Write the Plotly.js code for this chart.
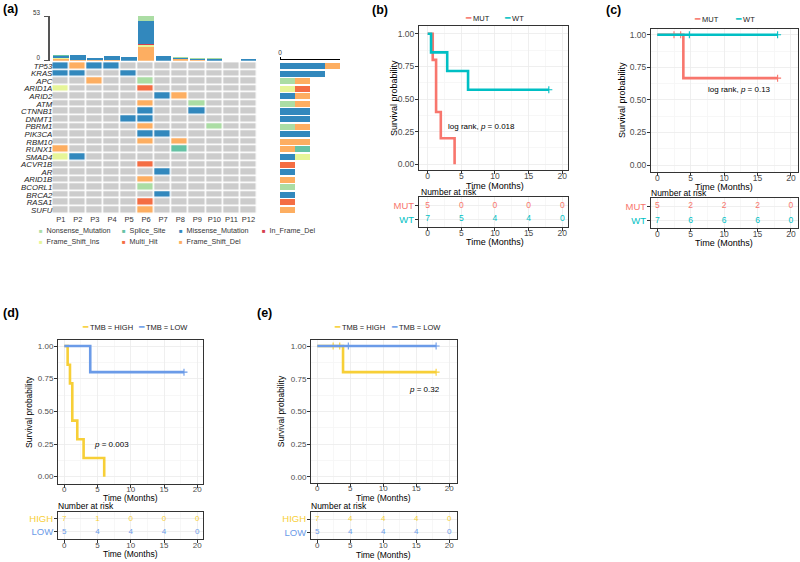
<!DOCTYPE html>
<html><head><meta charset="utf-8">
<script src="https://cdn.plot.ly/plotly-3.0.1.min.js"></script>
<style>html,body{margin:0;padding:0;background:#fff}</style>
</head><body><div id="chart" style="width:800px;height:562px"></div>
<script>
// ================= DATA =================
// Panel (a) oncoplot
const samples = ['P1','P2','P3','P4','P5','P6','P7','P8','P9','P10','P11','P12'];
const genes = ['TP53','KRAS','APC','ARID1A','ARID2','ATM','CTNNB1','DNMT1','PBRM1','PIK3CA','RBM10','RUNX1','SMAD4','ACVR1B','AR','ARID1B','BCORL1','BRCA2','RASA1','SUFU'];
const variantClasses = ['Nonsense_Mutation','Splice_Site','Missense_Mutation','In_Frame_Del','Frame_Shift_Ins','Multi_Hit','Frame_Shift_Del'];
const variantCodes   = ['NS','SS','MS','IFD','FSI','MH','FSD'];
const variantColors  = ['#ABDDA4','#66C2A5','#3288BD','#D53E4F','#E6F598','#F46D43','#FDAE61'];
// calls per gene (rows) x sample (cols); '' = no mutation
const oncoCalls = [
  ['MS','FSD','MS','MS','','','','','','','',''],   // TP53
  ['MS','MS','','','MS','','','','','','',''],      // KRAS
  ['','','FSD','','','NS','','','','','',''],       // APC
  ['FSI','','','','','MH','','','','','',''],       // ARID1A
  ['','','','','','','MS','FSD','','','',''],       // ARID2
  ['','','','','','FSD','','','NS','','',''],       // ATM
  ['','','','','','MS','','','MS','','',''],        // CTNNB1
  ['','','','','MS','MS','','','','','',''],        // DNMT1
  ['','','','','','FSD','','','','NS','',''],       // PBRM1
  ['','','','','','MS','MS','','','','',''],        // PIK3CA
  ['','','','','','FSD','','FSD','','','',''],      // RBM10
  ['FSD','','','','','','','SS','','','',''],       // RUNX1
  ['FSI','MS','','','','','','','','','',''],       // SMAD4
  ['','','','','','MH','','','','','',''],          // ACVR1B
  ['','','','','','','MS','','','','',''],          // AR
  ['','','','','','FSD','','','','','',''],         // ARID1B
  ['','','','','','NS','','','','','',''],          // BCORL1
  ['','','','','','','MS','','','','',''],          // BRCA2
  ['','','','','','MH','','','','','',''],          // RASA1
  ['','','','','','FSD','','','','','','']          // SUFU
];
// mutation burden per sample (top bar)
const tmbFrameShiftDel = [2,1,1,1,0,16,0,2,1,0,0,0];
const tmbFrameShiftIns = [1,0,0,0,0,3,0,0,0,0,0,0];
const tmbInFrameDel    = [0,0,0,0,0,1,0,0,0,0,0,0];
const tmbMissense      = [3,6,2,4,4,27,5,1,1,2,0,2];
const tmbSplice        = [1,0,0,0,0,0,0,0,0,0,0,0];
const tmbNonsense      = [0,0,0,0,0,6,0,1,1,1,0,0];

// Panels (b)-(e) Kaplan-Meier
const riskTimes = [0,5,10,15,20];
// (b)
const bMutT = [0,0.75,1.25,1.95,4];   const bMutS = [1,0.8,0.4,0.2,0];
const bMutCensT = [];                 const bMutCensS = [];
const bWtT  = [0,0.5,2.9,6,18];       const bWtS  = [1,0.857,0.714,0.571,0.571];
const bWtCensT = [18];                const bWtCensS = [0.571];
const bMutRisk = [5,0,0,0,0];         const bWtRisk = [7,5,4,4,0];
// (c)
const cMutT = [0,3.9,18];             const cMutS = [1,0.667,0.667];
const cMutCensT = [2.5,3.5,18];       const cMutCensS = [1,1,0.667];
const cWtT  = [0,18];                 const cWtS  = [1,1];
const cWtCensT = [4.8,18];            const cWtCensS = [1,1];
const cMutRisk = [5,2,2,2,0];         const cWtRisk = [7,6,6,6,0];
// (d)
const dHighT = [0,0.5,0.85,1.2,1.95,2.9,6]; const dHighS = [1,0.857,0.714,0.429,0.286,0.143,0];
const dHighCensT = [];                const dHighCensS = [];
const dLowT  = [0,3.9,18];            const dLowS  = [1,0.8,0.8];
const dLowCensT = [18];               const dLowCensS = [0.8];
const dHighRisk = [7,1,0,0,0];        const dLowRisk = [5,4,4,4,0];
// (e)
const eHighT = [0,3.9,18];            const eHighS = [1,0.8,0.8];
const eHighCensT = [2.4,3.4,18];      const eHighCensS = [1,1,0.8];
const eLowT  = [0,18];                const eLowS  = [1,1];
const eLowCensT = [4.7,18];           const eLowCensS = [1,1];
const eHighRisk = [7,4,4,4,0];        const eLowRisk = [5,4,4,4,0];

// ================= STYLE / HELPERS =================
const W = 800, H = 562;
const px = (l, r) => [l / W, r / W];
const py = (t, b) => [1 - b / H, 1 - t / H];
const FN = 'Liberation Sans Narrow, Arial Narrow, Liberation Sans, Arial, sans-serif';
const FA = 'Liberation Sans, Arial, sans-serif';
const C_MUT = '#F8766D', C_WT = '#00BFC4', C_HIGH = '#F7CF37', C_LOW = '#6B9BE8';
const colorOf = code => variantColors[variantCodes.indexOf(code)];

const traces = [];

// ---- (a) top bar (mutation burden) ----
const tmbStack = [
  ['FSD', tmbFrameShiftDel], ['FSI', tmbFrameShiftIns], ['IFD', tmbInFrameDel],
  ['MS', tmbMissense], ['SS', tmbSplice], ['NS', tmbNonsense]
];
tmbStack.forEach(([code, vals]) => {
  traces.push({type:'bar', x:samples, y:vals, xaxis:'x', yaxis:'y', width:0.9,
    marker:{color:colorOf(code), line:{width:0}}, showlegend:false, hoverinfo:'skip'});
});

// ---- (a) heatmap ----
const geneIdx = genes.map((g, i) => i);
const zMat = oncoCalls.map(row => row.map(c => c === '' ? 0 : variantCodes.indexOf(c) + 1));
const cs = [];
const allColors = ['#CCCCCC'].concat(variantColors);
allColors.forEach((c, i) => {
  cs.push([i / allColors.length, c]);
  cs.push([(i + 1) / allColors.length, c]);
});
traces.push({type:'heatmap', x:samples, y:geneIdx, z:zMat, xaxis:'x2', yaxis:'y2',
  colorscale:cs, zmin:-0.5, zmax:allColors.length - 0.5, showscale:false, xgap:1.6, ygap:1.6, hoverinfo:'skip'});

// ---- (a) right bar (per-gene counts by class) ----
['NS','MS','FSI','MH','FSD','SS'].forEach(code => {
  const counts = oncoCalls.map(row => row.filter(c => c === code).length);
  traces.push({type:'bar', orientation:'h', x:counts, y:geneIdx, xaxis:'x3', yaxis:'y3', width:0.8,
    marker:{color:colorOf(code), line:{width:0}}, showlegend:false, hoverinfo:'skip'});
});
const pctLabels = oncoCalls.map(row => Math.round(100 * row.filter(c => c !== '').length / samples.length) + '%');

// ---- KM panels ----
function km(t, s, ct, cs_, color, xa, ya) {
  traces.push({type:'scatter', mode:'lines', x:t, y:s, xaxis:xa, yaxis:ya,
    line:{shape:'hv', color:color, width:2.6}, showlegend:false, hoverinfo:'skip'});
  if (ct.length) traces.push({type:'scatter', mode:'markers', x:ct, y:cs_, xaxis:xa, yaxis:ya,
    marker:{symbol:'cross-thin', size:5, color:color, line:{width:1.1, color:color}}, showlegend:false, hoverinfo:'skip'});
}
function risk(vals, row, color, xa, ya, fs) {
  traces.push({type:'scatter', mode:'text', x:riskTimes, y:riskTimes.map(() => row), text:vals.map(String),
    xaxis:xa, yaxis:ya, textfont:{family:FN, size:fs, color:color}, showlegend:false, hoverinfo:'skip'});
}
km(bMutT, bMutS, bMutCensT, bMutCensS, C_MUT, 'x4', 'y4');
km(bWtT, bWtS, bWtCensT, bWtCensS, C_WT, 'x4', 'y4');
risk(bMutRisk, 1, C_MUT, 'x5', 'y5', 8.5); risk(bWtRisk, 0, C_WT, 'x5', 'y5', 8.5);
km(cMutT, cMutS, cMutCensT, cMutCensS, C_MUT, 'x6', 'y6');
km(cWtT, cWtS, cWtCensT, cWtCensS, C_WT, 'x6', 'y6');
risk(cMutRisk, 1, C_MUT, 'x7', 'y7', 8.5); risk(cWtRisk, 0, C_WT, 'x7', 'y7', 8.5);
km(dHighT, dHighS, dHighCensT, dHighCensS, C_HIGH, 'x8', 'y8');
km(dLowT, dLowS, dLowCensT, dLowCensS, C_LOW, 'x8', 'y8');
risk(dHighRisk, 1, C_HIGH, 'x9', 'y9', 8); risk(dLowRisk, 0, C_LOW, 'x9', 'y9', 8);
km(eHighT, eHighS, eHighCensT, eHighCensS, C_HIGH, 'x10', 'y10');
km(eLowT, eLowS, eLowCensT, eLowCensS, C_LOW, 'x10', 'y10');
risk(eHighRisk, 1, C_HIGH, 'x11', 'y11', 8); risk(eLowRisk, 0, C_LOW, 'x11', 'y11', 8);

// ---- axes builders ----
function kmX(dom, rng, anchor, fs, so) {
  return {domain:dom, range:rng, anchor:anchor, showline:true, mirror:true, linecolor:'#333', linewidth:1,
    ticks:'outside', ticklen:3, tickcolor:'#333', tick0:0, dtick:5, ticklabelstandoff:so,
    tickfont:{family:FN, size:fs, color:'#4D4D4D'},
    showgrid:true, gridcolor:'#EBEBEB', gridwidth:0.8, zeroline:false,
    minor:{showgrid:true, gridcolor:'#F5F5F5', tick0:0, dtick:2.5, ticks:''}};
}
function kmY(dom, rng, anchor, fs) {
  return {domain:dom, range:rng, anchor:anchor, showline:true, mirror:true, linecolor:'#333', linewidth:1,
    ticks:'outside', ticklen:3, tickcolor:'#333', tick0:0, dtick:0.25, tickformat:'.2f', ticklabelstandoff:-1,
    tickfont:{family:FN, size:fs, color:'#4D4D4D'},
    showgrid:true, gridcolor:'#EBEBEB', gridwidth:0.8, zeroline:false,
    minor:{showgrid:true, gridcolor:'#F5F5F5', tick0:0, dtick:0.125, ticks:''}};
}
function riskY(dom, rng, anchor, lab1, c1, lab0, c0) {
  return {domain:dom, range:rng, anchor:anchor, showline:true, mirror:true, linecolor:'#333', linewidth:1,
    ticks:'outside', ticklen:3, tickcolor:'#333', tickmode:'array', tickvals:[1,0], ticklabelstandoff:-1,
    ticktext:['<span style="color:' + c1 + '">' + lab1 + '</span>', '<span style="color:' + c0 + '">' + lab0 + '</span>'],
    tickfont:{family:FN, size:9.5}, showgrid:true, gridcolor:'#EBEBEB', gridwidth:0.8, zeroline:false};
}

const layout = {
  width:W, height:H, margin:{l:0, r:0, t:0, b:0}, paper_bgcolor:'#fff', plot_bgcolor:'rgba(0,0,0,0)',
  barmode:'stack', showlegend:false, font:{family:FA, color:'#222'},
  // (a) top bar
  xaxis:{domain:px(52.3,257), anchor:'y', type:'category', range:[-0.5,11.5], showticklabels:false, ticks:'',
    showgrid:false, zeroline:false, showline:false},
  yaxis:{domain:py(16,60.7), anchor:'free', position:48.3/W, range:[0,53], tickmode:'array', tickvals:[0,53],
    ticks:'outside', ticklen:4, tickcolor:'#555', showline:true, linecolor:'#555', linewidth:1.2,
    ticklabelstandoff:3, ticklabelshift:-3,
    showgrid:false, zeroline:false, tickfont:{family:FA, size:6.3, color:'#333'}},
  // (a) heatmap
  xaxis2:{domain:px(52.3,257), anchor:'y2', type:'category', range:[-0.5,11.5], ticks:'',
    tickfont:{family:FA, size:7.5, color:'#333'}, showgrid:false, zeroline:false, showline:false},
  yaxis2:{domain:py(62.2,213.8), anchor:'x2', range:[19.5,-0.5], tickmode:'array', tickvals:geneIdx, ticktext:genes,
    ticks:'', ticklabelstandoff:-1, tickfont:{family:FA, size:7.8, style:'italic', color:'#222'},
    showgrid:false, zeroline:false, showline:false},
  yaxis12:{overlaying:'y2', anchor:'x2', side:'right', range:[19.5,-0.5], tickmode:'array', tickvals:geneIdx,
    ticktext:pctLabels, ticks:'', tickfont:{family:FA, size:7.2, color:'#222'}, showgrid:false, zeroline:false, showline:false},
  // (a) right bar
  xaxis3:{domain:px(280,340), anchor:'free', position:1-59.3/H, side:'top', range:[0,4], tickmode:'array', tickvals:[0],
    ticks:'outside', ticklen:2, tickcolor:'#000', showline:true, linecolor:'#000', linewidth:1,
    showgrid:false, zeroline:false, tickfont:{family:FA, size:6.5, color:'#333'}},
  yaxis3:{domain:py(62.2,213.8), anchor:'x3', range:[19.5,-0.5], visible:false},
  // (b)
  xaxis4:kmX(px(419,568), [-1.29,20.85], 'y4', 8.5, -5),
  yaxis4:kmY(py(26,170), [-0.0436,1.059], 'x4', 8.5),
  xaxis5:kmX(px(419,568), [-1.29,20.85], 'y5', 8.5, -5),
  yaxis5:riskY(py(197,227), [-0.57,1.64], 'x5', 'MUT', C_MUT, 'WT', C_WT),
  // (c)
  xaxis6:kmX(px(651,798), [-0.94,21.05], 'y6', 8.5, -5),
  yaxis6:kmY(py(29,171.7), [-0.051,1.044], 'x6', 8.5),
  xaxis7:kmX(px(651,798), [-0.94,21.05], 'y7', 8.5, -5),
  yaxis7:riskY(py(198,228), [-0.5,1.57], 'x7', 'MUT', C_MUT, 'WT', C_WT),
  // (d)
  xaxis8:kmX(px(58,203), [-0.95,20.86], 'y8', 8, -6),
  yaxis8:kmY(py(340,484), [-0.056,1.046], 'x8', 8),
  xaxis9:kmX(px(58,203), [-0.95,20.86], 'y9', 8, -5),
  yaxis9:riskY(py(511.7,539), [-0.54,1.56], 'x9', 'HIGH', C_HIGH, 'LOW', C_LOW),
  // (e)
  xaxis10:kmX(px(311,456.7), [-0.955,21.12], 'y10', 8, -6),
  yaxis10:kmY(py(340,483), [-0.048,1.046], 'x10', 8),
  xaxis11:kmX(px(311,456.7), [-0.955,21.12], 'y11', 8, -5),
  yaxis11:riskY(py(511.7,539.3), [-0.54,1.56], 'x11', 'HIGH', C_HIGH, 'LOW', C_LOW),
  annotations:[]
};

const ann = layout.annotations;
function note(text, x, y, opts) {
  ann.push(Object.assign({text:text, xref:'paper', yref:'paper', x:x / W, y:1 - y / H, xanchor:'left', yanchor:'middle',
    showarrow:false, font:{family:FN, size:8.5, color:'#000'}, borderpad:0}, opts || {}));
}
// panel labels
[['(a)',2,9],['(b)',371,10],['(c)',605,10],['(d)',2,313],['(e)',256,313]].forEach(([t,x,y]) =>
  note('<b>' + t + '</b>', x, y, {font:{family:FA, size:12.5, color:'#000'}}));
// axis titles (Time / Survival probability)
const titleFont = {family:FN, size:9, color:'#000'};
const titleFontS = {family:FN, size:8.5, color:'#000'};
[[495,185.5],[495,242],[724,187],[724,243]].forEach(([x,y]) =>
  note('Time (Months)', x, y, {xanchor:'center', font:titleFont}));
[[130.8,498.5],[130.8,554],[383.3,498],[383.3,555]].forEach(([x,y]) =>
  note('Time (Months)', x, y, {xanchor:'center', font:titleFontS}));
[[394,98],[622,100]].forEach(([x,y]) =>
  note('Survival probability', x, y, {xanchor:'center', textangle:-90, font:titleFont}));
[[29,412],[281.7,411.5]].forEach(([x,y]) =>
  note('Survival probability', x, y, {xanchor:'center', textangle:-90, font:titleFontS}));
// (a) legend
const legPos = {NS:[38,231], SS:[121,231], MS:[178,231], IFD:[261,231], FSI:[38,241.7], MH:[121,241.7], FSD:[178,241.7]};
variantCodes.forEach((code, i) => {
  const [x, y] = legPos[code];
  note('<span style="color:' + variantColors[i] + ';font-size:6px">■</span>  ' + variantClasses[i], x, y,
    {font:{family:FA, size:7.2, color:'#333'}});
});
// KM legends
function kmLegend(items, y) {
  items.forEach(([lab, col, x]) => note('<span style="color:' + col + ';font-size:9px">━</span> ' + lab, x, y,
    {font:{family:FN, size:7.5, color:'#222'}}));
}
kmLegend([['MUT', C_MUT, 464], ['WT', C_WT, 503]], 18);
kmLegend([['MUT', C_MUT, 693], ['WT', C_WT, 734]], 19);
kmLegend([['TMB = HIGH', C_HIGH, 81], ['TMB = LOW', C_LOW, 137]], 327);
kmLegend([['TMB = HIGH', C_HIGH, 333], ['TMB = LOW', C_LOW, 390]], 327);
// Number at risk
note('Number at risk', 420, 192.5); note('Number at risk', 650, 193.5);
note('Number at risk', 57, 505.5); note('Number at risk', 310, 505.5);
// p-values
function pnote(text, xa, ya, x, y) {
  ann.push({text:text, xref:xa, yref:ya, x:x, y:y, showarrow:false, xanchor:'center', yanchor:'middle',
    font:{family:FN, size:8, color:'#000'}});
}
pnote('log rank, <i>p</i> = 0.018', 'x4', 'y4', 7.98, 0.293);
pnote('log rank, <i>p</i> = 0.13', 'x6', 'y6', 12.3, 0.576);
pnote('<i>p</i> = 0.003', 'x8', 'y8', 7.17, 0.25);
pnote('<i>p</i> = 0.32', 'x10', 'y10', 16.2, 0.67);

Plotly.newPlot('chart', traces, layout, {displayModeBar:false, staticPlot:true});
</script></body></html>
